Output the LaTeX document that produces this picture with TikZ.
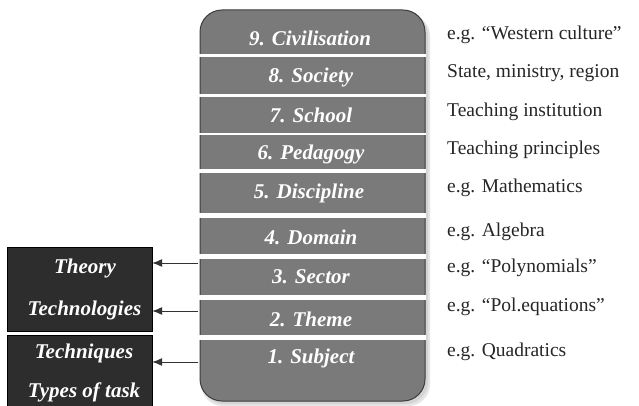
\documentclass[tikz,border=0pt]{standalone}
\usepackage{fontspec}
\setmainfont{Liberation Serif}
\usetikzlibrary{arrows.meta}
\definecolor{colgray}{HTML}{7A7A7A}
\definecolor{colborder}{HTML}{3C3C3C}
\definecolor{darkbox}{HTML}{2D2D2D}
\definecolor{shadowgray}{HTML}{D4D4D4}
\tikzset{
  bandtext/.style={text=white, font=\fontsize{21}{25}\selectfont\bfseries\itshape, inner sep=0pt},
  lefttext/.style={text=white, font=\fontsize{21}{25}\selectfont\bfseries\itshape, inner sep=0pt},
  note/.style={anchor=west, font=\fontsize{19.5}{23}\selectfont, inner sep=0pt, text=black!85},
  darkpanel/.style={fill=darkbox, draw=black, line width=0.8pt},
  gap/.style={fill=white, draw=none},
  arr/.style={draw=black!80, line width=0.9pt, -{Latex[length=10pt,width=8pt]}},
  band/.style={draw=none, inner sep=0pt, minimum width=225pt}
}
\begin{document}
\begin{tikzpicture}[x=1pt,y=-1pt]
\useasboundingbox (0,0) rectangle (639,406);
\fill[white] (0,0) rectangle (639,406);
% shadow
\fill[shadowgray!60, rounded corners=22pt] (201,14) rectangle (430,406);
\fill[shadowgray, rounded corners=22pt] (202,13) rectangle (428,404);
% column
\draw[fill=colgray, draw=colborder, line width=1pt, rounded corners=22pt] (200,10) rectangle (425,401);
% gaps
\foreach \a/\b in {54/57, 94.5/97.5, 133/135.5, 169.5/173.5, 213/217.5, 254/258.5, 295/299.5, 335/339.5}
  \fill[gap] (199,\a) rectangle (426,\b);
% band nodes
\node[band, bandtext] (b9) at (310,38) {9. Civilisation};
\node[band, bandtext] (b8) at (311,77) {8. Society};
\node[band, bandtext] (b7) at (311,115) {7. School};
\node[band, bandtext] (b6) at (311,154) {6. Pedagogy};
\node[band, bandtext] (b5) at (309,193) {5. Discipline};
\node[band, bandtext] (b4) at (311,237) {4. Domain};
\node[band, bandtext] (b3) at (311,277) {3. Sector};
\node[band, bandtext] (b2) at (311,319) {2. Theme};
\node[band, bandtext] (b1) at (311,358) {1. Subject};
% notes
\node[note] (n9) at (447,35) {e.g. “Western culture”};
\node[note] (n8) at (447,73) {State, ministry, region};
\node[note] (n7) at (447,112) {Teaching institution};
\node[note] (n6) at (447,150) {Teaching principles};
\node[note] (n5) at (447,188) {e.g. Mathematics};
\node[note] (n4) at (447,232) {e.g. Algebra};
\node[note] (n3) at (447,268) {e.g. “Polynomials”};
\node[note] (n2) at (447,307) {e.g. “Pol.equations”};
\node[note] (n1) at (447,352) {e.g. Quadratics};
% left panels
\draw[darkpanel] (7,247) rectangle (152,331);
\draw[darkpanel] (7,335) rectangle (152,407);
\node[draw=none, minimum width=145pt, minimum height=84pt, inner sep=0pt] (pa) at (79.5,289) {};
\node[draw=none, minimum width=145pt, minimum height=71pt, inner sep=0pt] (pb) at (79.5,370.5) {};
\node[lefttext] (t1) at (85,268) {Theory};
\node[lefttext] (t2) at (84.5,310) {Technologies};
\node[lefttext] (t3) at (84,353) {Techniques};
\node[lefttext] (t4) at (84,392) {Types of task};
% arrows
\draw[arr] (b3.west |- 0,263) -- (pa.east |- 0,263);
\draw[arr] (b2.west |- 0,311) -- (pa.east |- 0,311);
\draw[arr] (b1.west |- 0,362) -- (pb.east |- 0,362);
\end{tikzpicture}
\end{document}
